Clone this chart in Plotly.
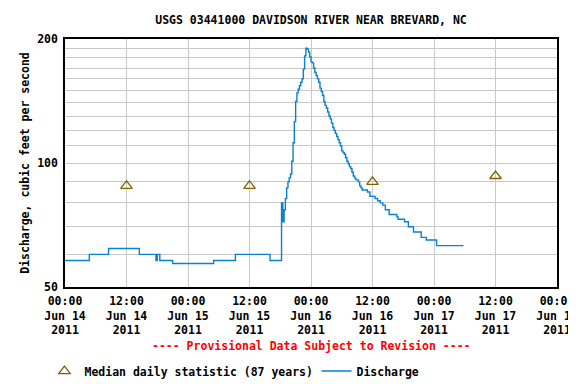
import plotly.graph_objects as go

# ---- data ----
median_times = ["2011-06-14 12:00", "2011-06-15 12:00", "2011-06-16 12:00", "2011-06-17 12:00"]
median_values = [88, 88, 90, 93]

discharge_times = [
    "2011-06-14 00:00", "2011-06-14 04:45", "2011-06-14 08:30", "2011-06-14 14:30",
    "2011-06-14 17:45", "2011-06-14 18:00", "2011-06-14 18:30", "2011-06-14 21:00",
    "2011-06-15 05:00", "2011-06-15 09:15", "2011-06-15 16:00",
    "2011-06-15 18:15", "2011-06-15 18:30", "2011-06-15 18:45", "2011-06-15 19:00",
    "2011-06-15 19:15", "2011-06-15 19:30", "2011-06-15 19:45", "2011-06-15 20:00",
    "2011-06-15 20:15", "2011-06-15 20:30", "2011-06-15 20:45", "2011-06-15 21:00",
    "2011-06-15 21:15", "2011-06-15 21:30", "2011-06-15 21:45", "2011-06-15 22:00",
    "2011-06-15 22:15", "2011-06-15 22:30", "2011-06-15 22:45", "2011-06-15 23:00",
    "2011-06-15 23:15", "2011-06-15 23:30", "2011-06-15 23:45", "2011-06-16 00:00",
    "2011-06-16 00:15", "2011-06-16 00:30", "2011-06-16 00:45", "2011-06-16 01:00",
    "2011-06-16 01:15", "2011-06-16 01:30", "2011-06-16 01:45", "2011-06-16 02:00",
    "2011-06-16 02:15", "2011-06-16 02:30", "2011-06-16 02:45", "2011-06-16 03:00",
    "2011-06-16 03:15", "2011-06-16 03:30", "2011-06-16 03:45", "2011-06-16 04:00",
    "2011-06-16 04:15", "2011-06-16 04:30", "2011-06-16 04:45", "2011-06-16 05:00",
    "2011-06-16 05:15", "2011-06-16 05:30", "2011-06-16 05:45", "2011-06-16 06:00",
    "2011-06-16 06:15", "2011-06-16 06:30", "2011-06-16 06:45", "2011-06-16 07:00",
    "2011-06-16 07:15", "2011-06-16 07:30", "2011-06-16 07:45", "2011-06-16 08:00",
    "2011-06-16 08:15", "2011-06-16 08:30", "2011-06-16 08:45", "2011-06-16 09:15",
    "2011-06-16 09:30", "2011-06-16 09:45", "2011-06-16 10:00", "2011-06-16 11:00",
    "2011-06-16 11:30", "2011-06-16 12:30", "2011-06-16 13:00", "2011-06-16 13:30",
    "2011-06-16 14:00", "2011-06-16 14:30", "2011-06-16 15:15", "2011-06-16 16:45",
    "2011-06-16 17:00", "2011-06-16 18:15", "2011-06-16 19:00", "2011-06-16 20:00",
    "2011-06-16 21:30", "2011-06-16 22:30", "2011-06-17 00:30", "2011-06-17 05:45",
]
discharge_values = [
    58, 60, 62, 60,
    58, 60, 58, 57,
    58, 60, 58,
    80, 72, 77, 82,
    87, 90, 92, 94,
    101, 112, 126, 141,
    148, 151, 154, 157,
    160, 169, 182, 190,
    189, 186, 181, 176,
    175, 170, 166, 163,
    160, 157, 152, 149,
    146, 141, 138, 136,
    133, 130, 128, 125,
    122, 120, 118, 116,
    114, 112, 110, 107,
    106, 105, 103, 101,
    99.6, 98, 97, 95,
    93, 92, 91, 90,
    88, 87, 86, 85,
    83, 82, 81, 80,
    79, 77, 75, 74,
    73, 72, 70, 68,
    66, 65, 63, 63,
]

y_tick_values = [50, 60, 70, 80, 90, 100, 110, 120, 130, 140, 150, 160, 170, 180, 190, 200]
y_tick_labels = ["50", "", "", "", "", "100", "", "", "", "", "", "", "", "", "", "200"]

FONT = "DejaVu Sans Mono"
FS = 11.5
W, H = 576, 376  # page body adds an 8px offset

fig = go.Figure()
fig.add_trace(go.Scatter(
    x=median_times, y=median_values, mode="markers",
    name="Median daily statistic (87 years)",
    marker=dict(symbol="triangle-up-open", size=10, color="#806000",
                line=dict(width=1.3, color="#806000")),
))
fig.add_trace(go.Scatter(
    x=discharge_times, y=discharge_values, mode="lines",
    name="Discharge", line=dict(color="#0a80d0", width=1.4, shape="hv"),
))

fig.update_layout(
    template="none",
    width=W, height=H,
    margin=dict(l=57, r=27, t=31, b=97, autoexpand=False),
    paper_bgcolor="white", plot_bgcolor="white",
    font=dict(family=FONT, size=FS, color="black", weight="bold"),
    title=dict(text="USGS 03441000 DAVIDSON RIVER NEAR BREVARD, NC",
               x=0.5, xref="paper", xanchor="center",
               y=1 - 12 / H, yref="container", yanchor="middle",
               font=dict(family=FONT, size=FS, color="black", weight="bold")),
    showlegend=True,
    legend=dict(orientation="h", x=-0.0417, xanchor="left", y=-0.339, yanchor="middle",
                font=dict(family=FONT, size=FS, color="black", weight="bold"),
                bgcolor="rgba(0,0,0,0)", entrywidth=227, entrywidthmode="pixels"),
    annotations=[dict(text="---- Provisional Data Subject to Revision ----",
                      xref="paper", yref="paper", x=0.5, y=-0.238,
                      xanchor="center", yanchor="middle", showarrow=False,
                      font=dict(family=FONT, size=FS, color="#ff0000", weight="bold"))],
)

fig.update_xaxes(
    type="date", range=["2011-06-14 00:00", "2011-06-18 00:00"],
    tick0="2011-06-14 00:00", dtick=12 * 3600 * 1000,
    tickformat="%H:%M<br>%b %d<br>%Y",
    showgrid=True, gridcolor="#c8c8c8", gridwidth=1,
    showline=True, linecolor="black", linewidth=1.5, mirror=True,
    ticks="", zeroline=False, automargin=False,
    ticklabeloverflow="allow", ticklabelstandoff=2,
    tickfont=dict(family=FONT, size=FS, color="black", weight="bold"),
)
fig.update_yaxes(
    type="log", range=[1.69897, 2.30103],
    tickmode="array", tickvals=y_tick_values, ticktext=y_tick_labels,
    showgrid=True, gridcolor="#c8c8c8", gridwidth=1,
    showline=True, linecolor="black", linewidth=1.5, mirror=True,
    ticks="", zeroline=False, automargin=False, ticklabelstandoff=3,
    title=dict(text="Discharge, cubic feet per second", standoff=5,
               font=dict(family=FONT, size=FS, color="black", weight="bold")),
    tickfont=dict(family=FONT, size=FS, color="black", weight="bold"),
)

fig.write_html("out.html")
